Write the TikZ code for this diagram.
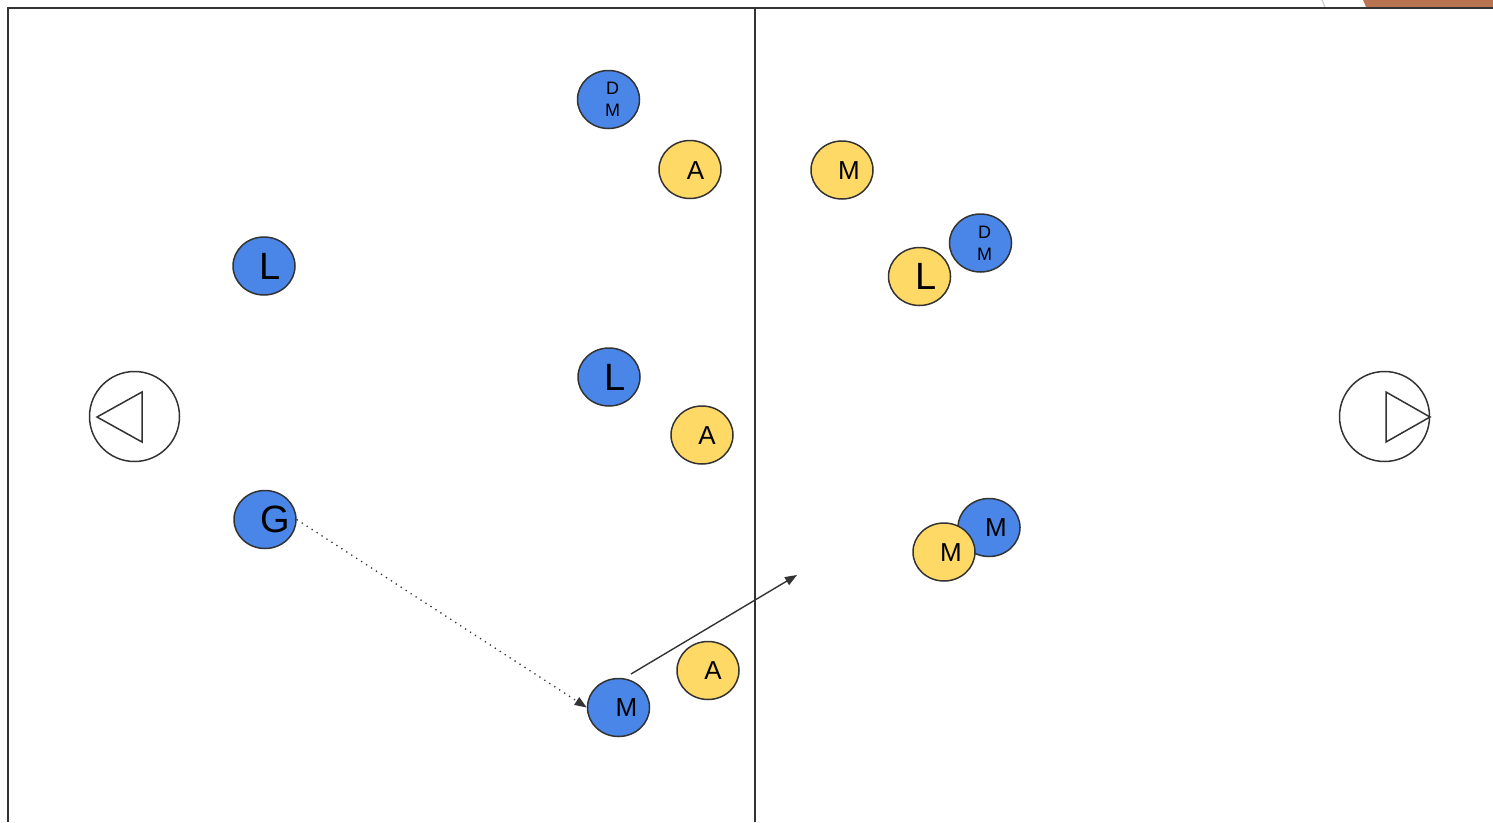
\documentclass[tikz,border=0pt]{standalone}
\usepackage{fontspec}
\setmainfont{Liberation Sans}
\usetikzlibrary{shapes.geometric,arrows.meta,calc}
\definecolor{linec}{HTML}{333333}
\definecolor{pblue}{HTML}{4A86E8}
\definecolor{pyellow}{HTML}{FFD966}
\definecolor{brownc}{HTML}{B87350}
\tikzset{
  player/.style={ellipse, draw=linec, line width=1.5pt, minimum width=62pt, minimum height=58pt, inner sep=0pt},
  bp/.style={player, fill=pblue},
  yp/.style={player, fill=pyellow},
  lbl/.style={font=\fontsize{26}{26}\selectfont, inner sep=0pt, text=black},
  big/.style={font=\fontsize{38}{38}\selectfont, inner sep=0pt, text=black},
  sm/.style={font=\fontsize{18}{22}\selectfont, inner sep=0pt, align=center, text=black},
  goal/.style={circle, draw=linec, line width=1.5pt, minimum size=90pt, inner sep=0pt, fill=white},
  tri/.style={draw=linec, line width=1.5pt, line join=miter},
  fieldline/.style={draw=linec, line width=1.6pt},
  arr/.style={draw=linec, line width=1.4pt, -{Triangle[length=12pt,width=9pt]}},
  dotarr/.style={draw=linec, line width=1.3pt, dash pattern=on 1.3pt off 4.6pt, -{Triangle[length=12pt,width=9pt]}},
}
\begin{document}
\begin{tikzpicture}[x=1pt,y=-1pt]
\useasboundingbox (0,0) rectangle (1493,822);
% top right corner bits
\fill[brownc] (1363,0) -- (1493,0) -- (1493,7) -- (1366,7) -- cycle;
\draw[black!20, line width=1.2pt] (1322,0) -- (1325,7);
% field
\draw[fieldline] (1493,8) -- (8,8) -- (8,822);
\draw[fieldline] (755,8) -- (755,822);
% goals
\node[goal] (goalL) at (134.5,416.5) {};
\draw[tri] (97,417) -- (142,392) -- (142,442) -- cycle;
\node[goal] (goalR) at (1384.5,416.5) {};
\draw[tri] (1430,417) -- (1386,392) -- (1386,442) -- cycle;
% left half
\node[bp, label={[sm,xshift=4]center:D\\M}] (dm1) at (608.5,99.5) {};
\node[yp, label={[lbl,xshift=5.5,yshift=-1]center:A}] (a1) at (690,169.5) {};
\node[bp, label={[big,xshift=6]center:L}] (l1) at (264,266) {};
\node[bp, label={[big,xshift=6]center:L}] (l2) at (609,377) {};
\node[yp, label={[lbl,xshift=5,yshift=-1]center:A}] (a2) at (702,435) {};
\node[bp, label={[big,xshift=10]center:G}] (g) at (265,519.5) {};
\node[yp, label={[lbl,xshift=5]center:A}] (a3) at (708,670.5) {};
\node[bp, label={[lbl,xshift=8]center:M}] (m3) at (618.5,707.5) {};
% right half
\node[yp, label={[lbl,xshift=7,yshift=-1]center:M}] (m1) at (842,170) {};
\node[bp, label={[sm,xshift=4]center:D\\M}] (dm2) at (980.5,243) {};
\node[yp, label={[big,xshift=6.5]center:L}] (l3) at (919.5,276.5) {};
\node[bp, label={[lbl,xshift=7]center:M}] (m2) at (989,527.5) {};
\node[yp, label={[lbl,xshift=7,yshift=-1]center:M}] (m4) at (944,552) {};
% arrows
\coordinate (tgt) at (797,575);
\draw[dotarr] (g.east) -- (m3.west);
\draw[arr] ($(m3)+(12.5,-33.5)$) -- (tgt);
\end{tikzpicture}
\end{document}
